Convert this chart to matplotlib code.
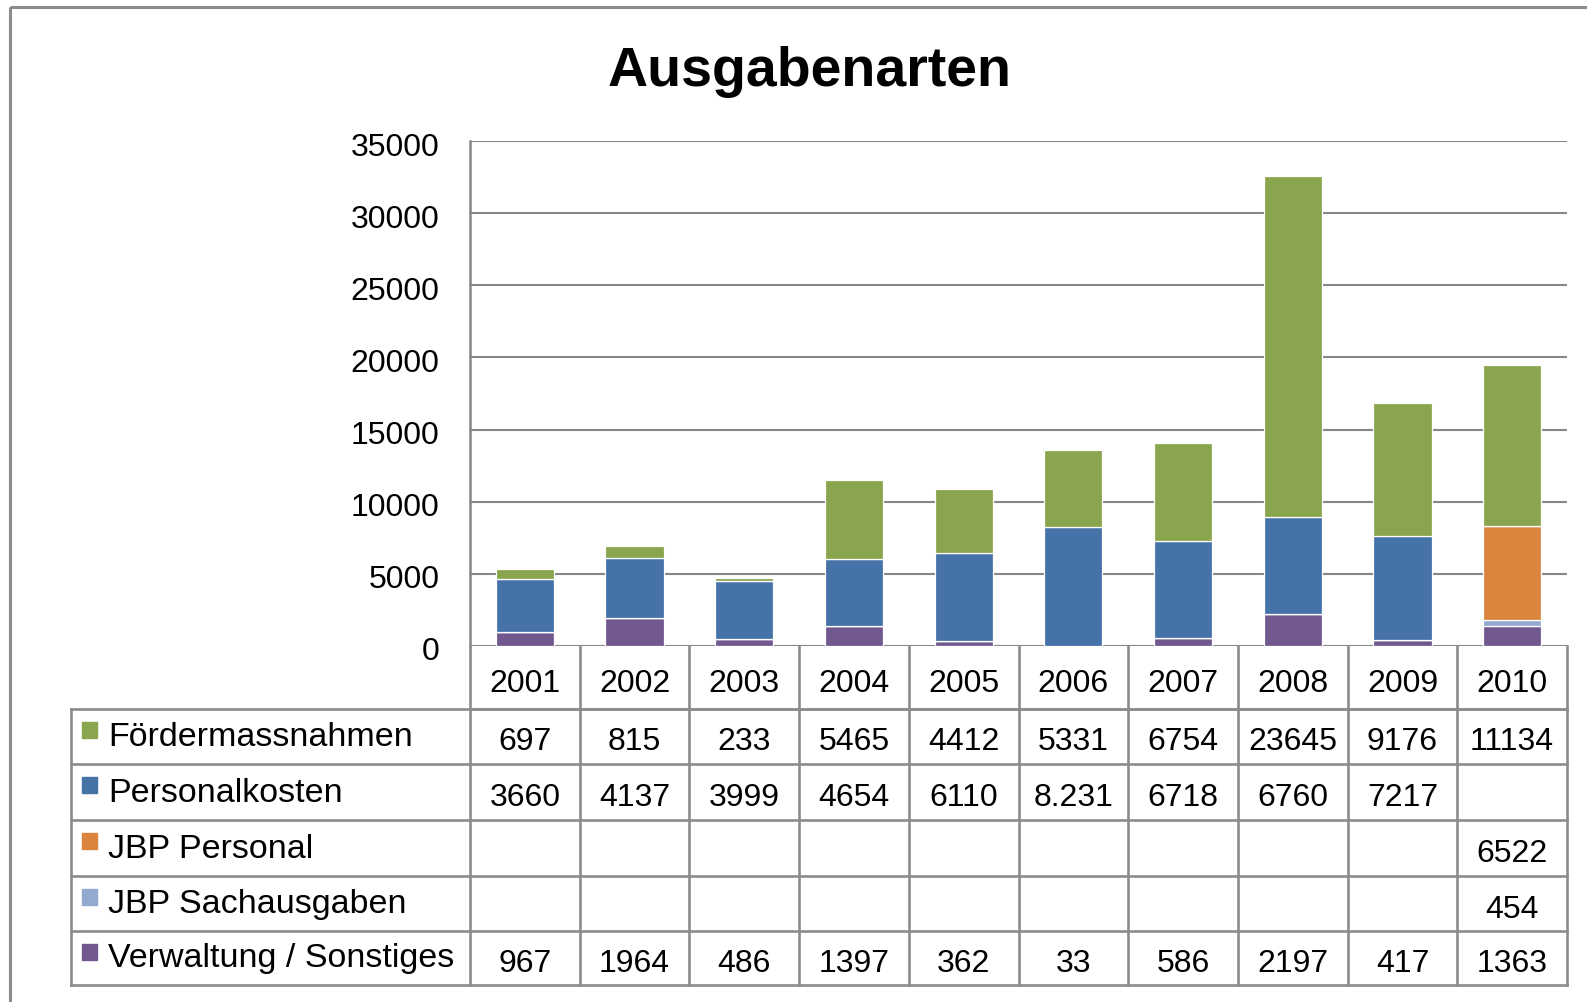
import numpy as np
import matplotlib
matplotlib.use("Agg")
import matplotlib.pyplot as plt
import matplotlib.transforms as mtransforms
from matplotlib.patches import Rectangle

plt.rcParams["font.family"] = ["Liberation Sans", "DejaVu Sans"]

years = ["2001", "2002", "2003", "2004", "2005", "2006", "2007", "2008", "2009", "2010"]
foerder = [697, 815, 233, 5465, 4412, 5331, 6754, 23645, 9176, 11134]
personal = [3660, 4137, 3999, 4654, 6110, 8231, 6718, 6760, 7217, np.nan]
jbp_personal = [np.nan] * 9 + [6522]
jbp_sach = [np.nan] * 9 + [454]
verwaltung = [967, 1964, 486, 1397, 362, 33, 586, 2197, 417, 1363]

# table row order (top to bottom) and stacking order (bottom to top)
series_names = ["Fördermassnahmen", "Personalkosten", "JBP Personal",
                "JBP Sachausgaben", "Verwaltung / Sonstiges"]
series_vals = [foerder, personal, jbp_personal, jbp_sach, verwaltung]
colors = ["#89A54E", "#4572A7", "#DB843D", "#93A9CF", "#71588F"]
# the source table prints this one value with a dot
text_override = {("Personalkosten", 5): "8.231"}

W, H = 1587, 1002
fig = plt.figure(figsize=(W / 100, H / 100), dpi=100)

# pixel layout
left, right, top, zero = 470, 1567, 141, 646
ax = fig.add_axes([left / W, 1 - zero / H, (right - left) / W, (zero - top) / H])

x = np.arange(len(years))
bottom = np.zeros(len(years))
for name, vals, col in reversed(list(zip(series_names, series_vals, colors))):
    v = np.nan_to_num(np.array(vals, dtype=float))
    ax.bar(x, v, 0.53, bottom=bottom, color=col, edgecolor="white",
           linewidth=0.9, zorder=3)
    bottom += v

ax.set_xlim(-0.5, len(years) - 0.5)
ax.set_ylim(0, 35000)
ax.set_yticks(np.arange(0, 35001, 5000))
ax.tick_params(axis="y", length=0, labelsize=23, pad=22)
shift = mtransforms.ScaledTranslation(0, -3 / 100, fig.dpi_scale_trans)
for lbl in ax.get_yticklabels():
    lbl.set_transform(lbl.get_transform() + shift)
ax.set_xticks([])
ax.yaxis.grid(True, color="#868686", linewidth=1.5)
ax.set_axisbelow(True)
for s in ["top", "right", "bottom"]:
    ax.spines[s].set_visible(False)
ax.spines["left"].set_color("#868686")
ax.spines["left"].set_linewidth(1.8)

fig.text(810 / W, 1 - 72 / H, "Ausgabenarten", fontsize=40, fontweight="bold",
         ha="center", va="center")

# data table drawn in pixel coordinates
tab = fig.add_axes([0, 0, 1, 1])
tab.set_xlim(0, W)
tab.set_ylim(H, 0)
tab.axis("off")
tab.patch.set_alpha(0)

line_kw = dict(color="#8C8C8C", linewidth=1.9, solid_capstyle="projecting")
col_w = (right - left) / len(years)
col_edges = [left + i * col_w for i in range(len(years) + 1)]
head_top, head_bot = zero, 709
row_edges = [709, 764, 820, 876, 931, 985]
lab_left = 71

# header row with years
tab.plot([left, right], [head_bot, head_bot], **line_kw)
for xe in col_edges:
    tab.plot([xe, xe], [head_top, row_edges[-1]], **line_kw)
for i, yr in enumerate(years):
    tab.text(left + (i + 0.5) * col_w, (head_top + head_bot) / 2 + 6, yr,
             fontsize=23, ha="center", va="center")

# body rows
for ye in row_edges:
    tab.plot([lab_left, right], [ye, ye], **line_kw)
tab.plot([lab_left, lab_left], [row_edges[0], row_edges[-1]], **line_kw)

for r, (name, vals, col) in enumerate(zip(series_names, series_vals, colors)):
    y0, y1 = row_edges[r], row_edges[r + 1]
    yc = (y0 + y1) / 2
    tab.add_patch(Rectangle((82, y0 + 13), 15, 16, color=col))
    tab.text(108, yc + 1, name, fontsize=24.5, ha="left", va="center")
    for i, v in enumerate(vals):
        if (name, i) in text_override:
            s = text_override[(name, i)]
        elif np.isnan(v):
            s = ""
        else:
            s = str(int(v))
        tab.text(left + (i + 0.5) * col_w, yc + 6, s, fontsize=23,
                 ha="center", va="center")

# outer chart frame
tab.add_patch(Rectangle((10, 7), W, H, fill=False, edgecolor="#8C8C8C",
                        linewidth=2.2))

fig.savefig("out.png", dpi=100)
